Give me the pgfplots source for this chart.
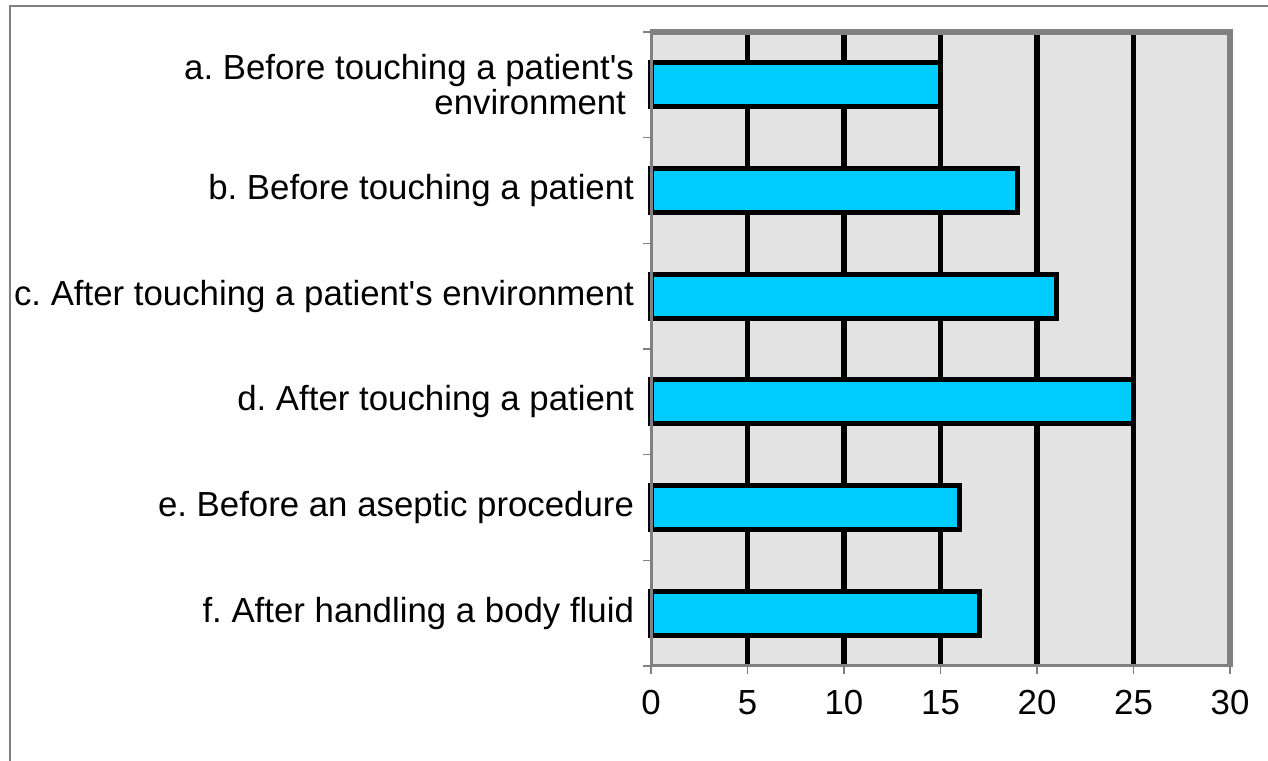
\documentclass[border=0pt]{standalone}
\usepackage{pgfplots}
\pgfplotsset{compat=1.18}
\usepackage{fontspec}
\setmainfont{Liberation Sans}
\definecolor{barcyan}{HTML}{00CCFF}
\definecolor{bggray}{HTML}{E3E3E3}
\definecolor{frgray}{HTML}{808080}
\frenchspacing
\begin{document}
\begin{tikzpicture}
\useasboundingbox (0,0) rectangle (634pt,380pt);
\draw[frgray, line width=1pt] (5pt,-5pt) -- (5pt,377pt) -- (640pt,377pt);
\begin{axis}[
  at={(325.5pt,47pt)}, anchor=south west,
  scale only axis, width=289.5pt, height=317pt,
  xmin=0, xmax=30, ymin=0, ymax=6,
  axis line style={draw=none},
  axis background/.style={fill=bggray},
  xtick={0,5,...,30},
  ytick={0.5,1.5,...,5.5},
  yticklabels={{f. After handling a body fluid},{e. Before an aseptic procedure},{d. After touching a patient},{c. After touching a patient\textquotesingle s environment},{b. Before touching a patient},{a. Before touching a patient\textquotesingle s\\environment\hspace*{4pt}}},
  minor ytick={0,1,...,6},
  tick align=outside,
  xtick pos=bottom, ytick pos=left,
  major tick length=4pt,
  minor tick length=4pt,
  ytick style={draw=none},
  minor y tick style={draw=frgray, line width=0.6pt},
  xtick style={draw=frgray, line width=0.6pt},
  /pgf/number format/assume math mode=true,
  tick label style={font=\fontsize{17.4}{17.5}\selectfont},
  yticklabel style={align=right, xshift=-1pt},
  xticklabel style={yshift=-4.5pt},
  extra x ticks={5,10,15,20,25},
  extra x tick labels={},
  extra x tick style={grid=major, major grid style={black, line width=2.75pt}, xtick style={draw=none}},
  clip=false,
]
\addplot[xbar, bar width=22pt, bar shift=0pt, fill=barcyan, draw=black, line width=2.6pt]
  coordinates {(17,0.5) (16,1.5) (25,2.5) (21,3.5) (19,4.5) (15,5.5)};
\draw[frgray, line width=1.5pt] (rel axis cs:0,1) -- (rel axis cs:0,0) -- (rel axis cs:1,0);
\draw[frgray, line width=3pt] ([xshift=-0.75pt]rel axis cs:0,1) -- ([xshift=0pt]rel axis cs:1,1) -- ([yshift=-0.75pt]rel axis cs:1,0);
\end{axis}
\end{tikzpicture}
\end{document}
